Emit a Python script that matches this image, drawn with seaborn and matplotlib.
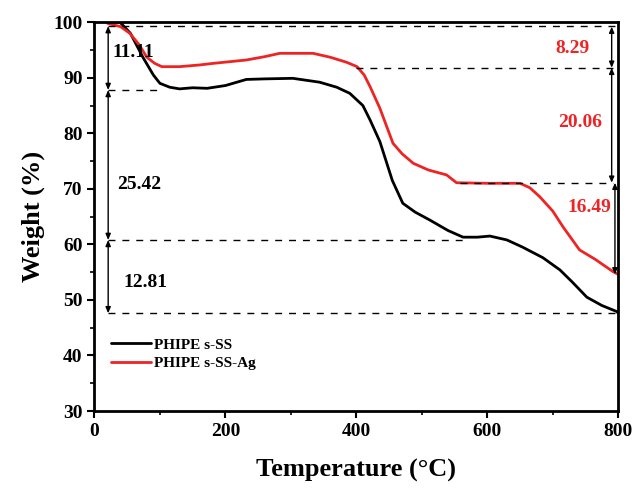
import numpy as np
import pandas as pd
import matplotlib
matplotlib.use("Agg")
import matplotlib.pyplot as plt
from matplotlib.ticker import MultipleLocator
import seaborn as sns

# --- Data ---
temp_ss = [20, 39, 55, 74, 90, 100, 115, 130, 150, 172, 200, 232, 260, 303,
           344, 370, 390, 410, 421, 436, 455, 471, 490, 512, 540, 563, 585,
           604, 630, 654, 685, 711, 730, 752, 775, 798, 800]
weight_ss = [100, 100, 98, 93.7, 90.5, 89, 88.3, 88, 88.2, 88.1, 88.6, 89.7,
             89.8, 89.9, 89.2, 88.3, 87.2, 85.0, 82.4, 78.5, 71.5, 67.4, 65.8,
             64.4, 62.5, 61.3, 61.3, 61.5, 60.8, 59.5, 57.6, 55.4, 53.2, 50.5,
             49.0, 47.9, 47.6]

temp_ag = [20, 40, 54, 68, 80, 92, 103, 130, 160, 182, 232, 260, 283, 334,
           360, 385, 401, 412, 421, 436, 456, 470, 487, 510, 538, 553, 600,
           650, 665, 680, 700, 716, 741, 765, 792, 800]
weight_ag = [99.8, 99.2, 98, 96, 93.7, 92.6, 92, 92, 92.3, 92.6, 93.2, 93.8,
             94.4, 94.4, 93.7, 92.8, 92, 90.5, 88.4, 84.5, 78.2, 76.3, 74.6,
             73.4, 72.5, 71.1, 71.0, 71.0, 70.2, 68.6, 66.0, 63.1, 59.0, 57.3,
             55.1, 54.6]

series_names = ["PHIPE s-SS", "PHIPE s-SS-Ag"]

# weight-loss steps (levels bounding each step) and labels
levels_ss = [99.3, 87.8, 60.8, 47.6]
labels_ss = ["11.11", "25.42", "12.81"]
levels_ag = [99.2, 91.8, 71.1, 54.6]
labels_ag = ["8.29", "20.06", "16.49"]

# dashed guide lines: (level, x start, x end)
guides = [(99.3, 20, 800), (87.8, 20, 103), (91.8, 400, 792),
          (71.1, 558, 792), (60.8, 20, 563), (47.6, 20, 800)]

df = pd.concat([
    pd.DataFrame({"T": temp_ss, "W": weight_ss, "Sample": series_names[0]}),
    pd.DataFrame({"T": temp_ag, "W": weight_ag, "Sample": series_names[1]}),
])

sns.set_style("ticks")
plt.rcParams["font.family"] = ["Liberation Serif", "DejaVu Serif"]
plt.rcParams["font.weight"] = "bold"
for key in ["text.color", "axes.labelcolor", "xtick.color", "ytick.color",
            "axes.edgecolor"]:
    plt.rcParams[key] = "black"

RED = "#ee2424"

fig = plt.figure(figsize=(6.38, 4.94), dpi=100)
ax = fig.add_axes([0.148, 0.168, 0.821, 0.787])

sns.lineplot(data=df, x="T", y="W", hue="Sample",
             palette={series_names[0]: "black", series_names[1]: RED},
             linewidth=2, ax=ax, sort=False)

for lvl, x0, x1 in guides:
    ax.plot([x0, x1], [lvl, lvl], color="black", lw=1, ls=(0, (5, 5)))

arrow = dict(arrowstyle="<|-|>,head_length=0.35,head_width=0.15",
             color="black", lw=1, shrinkA=0, shrinkB=0)
for i in range(3):
    ax.annotate("", xy=(21, levels_ss[i + 1]), xytext=(21, levels_ss[i]),
                arrowprops=arrow)
for i, xr in enumerate([790, 790, 795]):
    ax.annotate("", xy=(xr, levels_ag[i + 1]), xytext=(xr, levels_ag[i]),
                arrowprops=arrow)

# step labels
for txt, (x, y) in zip(labels_ss, [(27, 94.6), (35, 70.7), (44, 53.2)]):
    ax.text(x, y, txt, fontsize=14, fontweight="bold", color="black",
            va="center", ha="left")
for txt, (x, y) in zip(labels_ag, [(757, 95.3), (775, 82.0), (790, 66.7)]):
    ax.text(x, y, txt, fontsize=14, fontweight="bold", color=RED,
            va="center", ha="right")

ax.set_xlim(0, 800)
ax.set_ylim(30, 100)
ax.xaxis.set_major_locator(MultipleLocator(200))
ax.xaxis.set_minor_locator(MultipleLocator(100))
ax.yaxis.set_major_locator(MultipleLocator(10))
ax.yaxis.set_minor_locator(MultipleLocator(5))
ax.tick_params(which="major", length=5, width=1.5, direction="out",
               labelsize=14, colors="black")
ax.tick_params(which="minor", length=3, width=1.2, direction="out",
               colors="black")
for lab in ax.get_xticklabels() + ax.get_yticklabels():
    lab.set_fontweight("bold")
for sp in ax.spines.values():
    sp.set_visible(True)
    sp.set_linewidth(2)
    sp.set_color("black")

ax.set_xlabel("Temperature (°C)", fontsize=19, fontweight="bold",
              color="black", labelpad=14)
ax.set_ylabel("Weight (%)", fontsize=19, fontweight="bold", color="black",
              labelpad=6)

leg = ax.legend(loc="lower left", bbox_to_anchor=(0.02, 0.09), frameon=False,
                fontsize=11, handlelength=2.6, handletextpad=0.2,
                labelspacing=0.3, borderaxespad=0)
for t in leg.get_texts():
    t.set_fontweight("bold")
    t.set_color("black")

fig.savefig("out.png", dpi=100)
